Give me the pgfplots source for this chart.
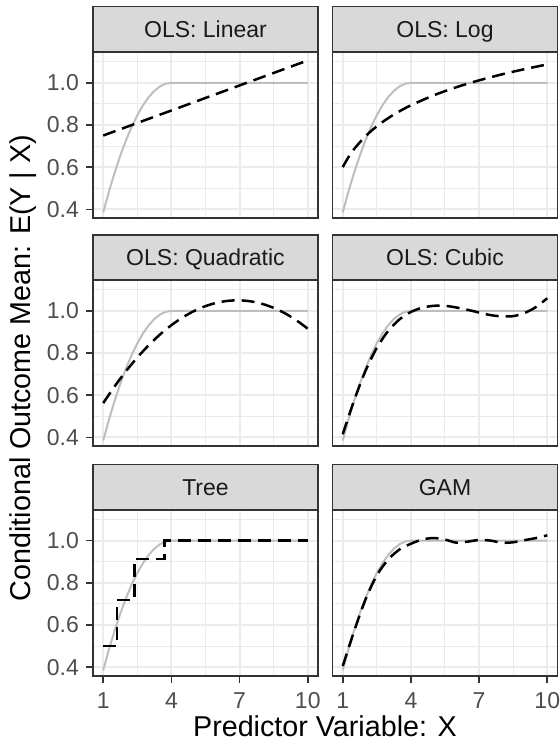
\documentclass[border=0pt]{standalone}
\usepackage{pgfplots}
\pgfplotsset{compat=1.18}
\usepackage{fontspec}
\setmainfont{Liberation Sans}
\definecolor{gridc}{HTML}{EBEBEB}
\definecolor{borderc}{HTML}{333333}
\definecolor{stripc}{HTML}{D9D9D9}
\definecolor{tickc}{HTML}{4D4D4D}
\definecolor{stript}{HTML}{1A1A1A}
\definecolor{truthc}{HTML}{BEBEBE}

\pgfplotstableread{
x y
1 0.3853
1.25 0.4835
1.5 0.5731
1.75 0.6542
2 0.7268
2.25 0.7908
2.5 0.8463
2.75 0.8933
3 0.9317
3.25 0.9616
3.5 0.9829
3.75 0.9957
4 1.0
10 1.0
}\truth

\pgfplotstableread{
x y
1 0.750
10 1.106
}\linear

\pgfplotstableread{
x y
1 0.6000
1.25 0.6472
1.5 0.6858
2 0.7466
2.5 0.7938
3 0.8324
3.5 0.8650
4 0.8932
5 0.9404
6 0.9790
7 1.0116
8 1.0398
9 1.0647
10 1.0870
}\logfit

\pgfplotstableread{
x y
1 0.5627
1.5 0.6418
2 0.7139
2.5 0.7790
3 0.8371
3.5 0.8882
4 0.9323
4.5 0.9694
5 0.9995
5.5 1.0226
6 1.0387
6.5 1.0478
7 1.0499
7.5 1.0450
8 1.0331
8.5 1.0142
9 0.9883
9.5 0.9554
10 0.9155
}\quadfit

\pgfplotstableread{
x y
1 0.415
1.5 0.575
2 0.715
2.5 0.825
3 0.905
3.5 0.960
4 0.995
4.5 1.015
5 1.024
5.5 1.024
6 1.016
6.5 1.005
7 0.992
7.5 0.980
8 0.974
8.5 0.975
9 0.990
9.5 1.018
10 1.060
}\cubicfit

\pgfplotstableread{
x y
1 0.500
1.6 0.718
2.37 0.913
3.69 1.000
10 1.000
}\treefit

\pgfplotstableread{
x y
1 0.405
1.5 0.570
2 0.720
2.5 0.835
3 0.910
3.5 0.958
4 0.985
4.5 1.005
5 1.012
5.5 1.005
6 0.990
6.5 0.995
7 1.003
7.5 1.000
8 0.990
8.5 0.992
9 1.002
9.5 1.012
10 1.025
}\gamfit

\pgfplotsset{
  panel/.style={
    scale only axis, width=225pt, height=166pt,
    anchor=south west,
    xmin=0.55, xmax=10.45, ymin=0.358, ymax=1.145,
    xtick={1,4,7,10}, ytick={0.4,0.6,0.8,1.0},
    minor xtick={2.5,5.5,8.5}, minor ytick={0.5,0.7,0.9,1.1},
    grid=both,
    major grid style={color=gridc, line width=2pt},
    minor grid style={color=gridc, line width=1pt},
    axis line style={color=borderc, line width=1.6pt},
    tick align=outside, xtick pos=bottom, ytick pos=left,
    major tick length=7pt, minor tick length=0pt,
    minor tick style={draw=none},
    major tick style={color=borderc, line width=1.6pt},
    xticklabels={}, yticklabels={},
    ticklabel style={font=\fontsize{23}{26}\selectfont, text=tickc, inner sep=0pt},
    /pgf/number format/assume math mode=true,
  },
  noxt/.style={xtick style={draw=none}},
  noyt/.style={ytick style={draw=none}},
  yl/.style={yticklabels={0.4,0.6,0.8,1.0}, yticklabel style={xshift=-7pt}},
  xl/.style={xticklabels={1,4,7,10}, xticklabel style={yshift=-9pt}},
  truthline/.style={color=truthc, line width=2pt},
  fitline/.style={color=black, line width=2.5pt, dash pattern=on 13pt off 7pt},
}

\newcommand{\strip}[3]{%
  \draw[fill=stripc, draw=borderc, line width=1.6pt] (#1,#2) rectangle ++(225pt,45.5pt);
  \node[anchor=base, inner sep=0pt, text=stript, font=\fontsize{23}{26}\selectfont]
    at ([xshift=112.5pt, yshift=14.4pt]#1,#2) {#3};
}

\begin{document}
\begin{tikzpicture}
\path[use as bounding box] (0pt,0pt) rectangle (560pt,745pt);

% Row 1
\begin{axis}[panel, yl, noxt, at={(93pt,526.8pt)}]
  \addplot[truthline] table {\truth};
  \addplot[fitline] table {\linear};
\end{axis}
\strip{93pt}{692.8pt}{OLS: Linear}

\begin{axis}[panel, noxt, noyt, at={(332.5pt,526.8pt)}]
  \addplot[truthline] table {\truth};
  \addplot[fitline, smooth] table {\logfit};
\end{axis}
\strip{332.5pt}{692.8pt}{OLS: Log}

% Row 2
\begin{axis}[panel, yl, noxt, at={(93pt,298.7pt)}]
  \addplot[truthline] table {\truth};
  \addplot[fitline, smooth] table {\quadfit};
\end{axis}
\strip{93pt}{464.7pt}{OLS: Quadratic}

\begin{axis}[panel, noxt, noyt, at={(332.5pt,298.7pt)}]
  \addplot[truthline] table {\truth};
  \addplot[fitline, smooth] table {\cubicfit};
\end{axis}
\strip{332.5pt}{464.7pt}{OLS: Cubic}

% Row 3
\begin{axis}[panel, yl, xl, at={(93pt,69pt)}]
  \addplot[truthline] table {\truth};
  \addplot[fitline, const plot] table {\treefit};
\end{axis}
\strip{93pt}{235pt}{Tree}

\begin{axis}[panel, xl, noyt, at={(332.5pt,69pt)}]
  \addplot[truthline] table {\truth};
  \addplot[fitline, smooth] table {\gamfit};
\end{axis}
\strip{332.5pt}{235pt}{GAM}

\node[anchor=base, inner sep=0pt, font=\fontsize{28.7}{32}\selectfont] at (325pt,9pt) {Predictor Variable: X};
\node[anchor=base, rotate=90, inner sep=0pt, font=\fontsize{28.7}{32}\selectfont] at (30.5pt,377pt) {Conditional Outcome Mean: E(Y | X)};
\end{tikzpicture}
\end{document}
